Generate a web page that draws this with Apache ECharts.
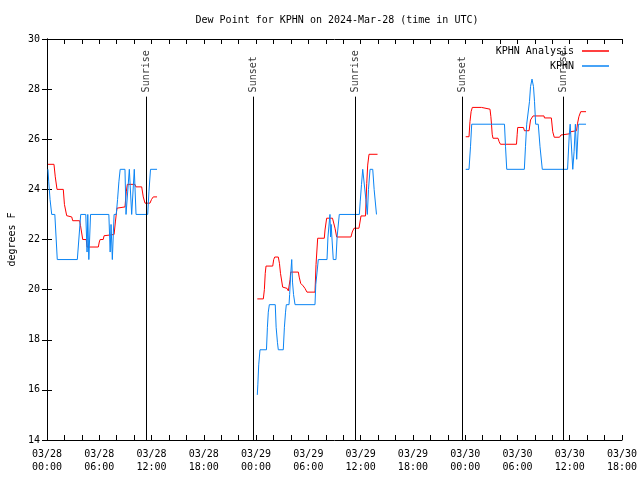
<!DOCTYPE html>
<html>
<head>
<meta charset="utf-8">
<script src="https://cdn.jsdelivr.net/npm/echarts@6/dist/echarts.min.js"></script>
<style>html,body{margin:0;padding:0;background:#fff}#c{width:640px;height:480px}</style>
</head>
<body>
<div id="c"></div>
<script>
// Hours since 2024-03-28 00:00 UTC, dew point in °F
const analysisDay1 = [[0.11,25.0],[0.80,25.0],[0.95,24.5],[1.15,24.0],[1.87,24.0],[2.0,23.4],[2.26,22.95],[2.84,22.9],[2.95,22.75],[3.75,22.75],[3.85,22.55],[4.10,22.0],[4.5,22.0],[4.6,21.7],[5.89,21.7],[6.0,21.9],[6.1,22.0],[6.45,22.0],[6.55,22.15],[6.69,22.2],[7.7,22.2],[7.85,22.7],[8.03,23.25],[8.95,23.3],[9.1,23.9],[9.22,24.2],[10.1,24.2],[10.2,24.1],[10.87,24.1],[11.05,23.7],[11.25,23.45],[11.82,23.45],[12.0,23.6],[12.2,23.7],[12.63,23.7]];
const analysisDay2 = [[24.14,19.63],[24.83,19.63],[24.95,20.0],[25.05,20.65],[25.14,20.94],[25.91,20.94],[26.02,21.2],[26.14,21.3],[26.55,21.3],[26.68,21.05],[26.8,20.65],[27.05,20.1],[27.55,20.05],[27.7,19.95],[27.78,19.9],[27.9,20.4],[27.97,20.7],[28.85,20.7],[28.95,20.5],[29.12,20.25],[29.4,20.15],[29.61,20.05],[29.84,19.9],[30.76,19.9],[30.88,21.0],[31.07,22.05],[31.83,22.05],[31.91,22.38],[32.10,22.85],[32.77,22.85],[33.06,22.45],[33.25,22.1],[34.89,22.1],[35.04,22.3],[35.24,22.45],[35.81,22.45],[36.04,22.94],[36.56,22.94],[36.70,24.24],[36.81,24.97],[36.96,25.4],[37.94,25.4]];
const analysisDay3 = [[48.06,26.1],[48.44,26.1],[48.55,26.7],[48.68,27.1],[48.82,27.27],[49.87,27.27],[49.95,27.2],[50.85,27.2],[50.95,26.9],[51.02,26.6],[51.1,26.2],[51.19,26.04],[51.77,26.04],[51.9,25.9],[52.05,25.8],[53.89,25.8],[53.97,26.2],[54.03,26.47],[54.69,26.47],[54.8,26.34],[55.33,26.34],[55.5,26.77],[55.79,26.93],[57.05,26.93],[57.1,26.85],[57.89,26.85],[58.05,26.3],[58.22,26.08],[58.83,26.08],[59.0,26.17],[59.17,26.22],[60.03,26.22],[60.1,26.3],[60.78,26.34],[60.9,26.64],[61.05,26.9],[61.26,27.1],[61.87,27.1]];

const obsDay1 = [[0.11,24.8],[0.2,24.3],[0.35,23.6],[0.54,23.0],[0.9,23.0],[1.18,21.2],[3.48,21.2],[3.87,23.0],[4.45,23.0],[4.60,21.5],[4.68,23.0],[4.80,21.2],[5.0,23.0],[7.1,23.0],[7.25,21.5],[7.35,22.6],[7.5,21.2],[7.7,23.0],[7.95,23.0],[8.1,23.6],[8.25,24.3],[8.4,24.8],[8.95,24.8],[9.07,23.0],[9.45,24.8],[9.72,23.0],[10.02,24.8],[10.22,23.0],[11.56,23.0],[11.7,23.9],[11.88,24.8],[12.63,24.8]];
const obsDay2 = [[24.14,15.8],[24.2,16.2],[24.3,17.0],[24.45,17.6],[25.19,17.6],[25.3,18.5],[25.4,19.1],[25.52,19.4],[26.2,19.4],[26.3,18.5],[26.45,17.9],[26.55,17.6],[27.12,17.6],[27.25,18.5],[27.38,19.1],[27.47,19.4],[27.78,19.4],[27.85,19.8],[27.97,20.6],[28.09,21.2],[28.18,20.3],[28.3,19.8],[28.47,19.4],[30.76,19.4],[30.85,20.2],[31.0,20.7],[31.14,21.2],[32.14,21.2],[32.25,22.1],[32.35,22.5],[32.48,23.0],[32.55,22.1],[32.62,22.6],[32.7,22.1],[32.86,21.2],[33.17,21.2],[33.3,22.1],[33.55,23.0],[35.85,23.0],[35.95,23.5],[36.1,24.2],[36.24,24.8],[36.42,24.8],[36.6,23.6],[36.77,23.0],[36.9,24.0],[37.08,24.8],[37.39,24.8],[37.55,24.0],[37.82,23.0]];
const obsDay3 = [[48.06,24.8],[48.44,24.8],[48.61,25.7],[48.75,26.6],[52.51,26.6],[52.63,25.7],[52.77,24.8],[54.79,24.8],[54.92,25.7],[55.06,26.6],[55.24,26.6],[55.38,27.5],[55.50,28.1],[55.67,28.4],[55.84,28.1],[55.96,27.5],[56.09,26.6],[56.39,26.6],[56.59,25.7],[56.85,24.8],[59.75,24.8],[59.95,26.2],[60.05,26.6],[60.2,26.6],[60.35,24.8],[60.5,25.5],[60.65,26.6],[60.8,25.2],[61.0,26.6],[61.87,26.6]];

const sunEvents = [[11.36,'Sunrise'],[23.65,'Sunset'],[35.35,'Sunrise'],[47.63,'Sunset'],[59.23,'Sunrise']];
const xMin = 0, xMax = 66, xStep = 6;
const yMin = 14, yMax = 30, yStep = 2;

const gap = (h) => [[h, '-']];
const analysisData = [].concat(analysisDay1, gap(18), analysisDay2, gap(43), analysisDay3);
const obsData = [].concat(obsDay1, gap(18), obsDay2, gap(43), obsDay3);

const FONT = 'DejaVu Sans Mono';
function fmtX(v) {
  const day = 28 + Math.floor(v / 24);
  const hr = Math.round(v % 24);
  return '03/' + String(day).padStart(2,'0') + '\n' + String(hr).padStart(2,'0') + ':00';
}
const tickCommon = { show: true, inside: true, length: 5, lineStyle: { color: '#000', width: 1 } };
const minorCommon = { show: true, splitNumber: 3, length: 5, lineStyle: { color: '#000', width: 1 } };

const chart = echarts.init(document.getElementById('c'), null, { renderer: 'canvas' });
chart.setOption({
  animation: false,
  backgroundColor: '#fff',
  title: {
    text: 'Dew Point for KPHN on 2024-Mar-28 (time in UTC)',
    left: 332, top: 10, textAlign: 'center',
    textStyle: { fontFamily: FONT, fontSize: 10, fontWeight: 'normal', color: '#000' }
  },
  legend: [
    { data: ['KPHN Analysis'], right: 26, top: 41, align: 'right', icon: 'rect', itemWidth: 27, itemHeight: 1.5, itemGap: 0,
      textStyle: { fontFamily: FONT, fontSize: 10, color: '#000', padding: [0, 3, 0, 0] }, selectedMode: false },
    { data: ['KPHN'], right: 26, top: 56, align: 'right', icon: 'rect', itemWidth: 27, itemHeight: 1.5, itemGap: 0,
      textStyle: { fontFamily: FONT, fontSize: 10, color: '#000', padding: [0, 3, 0, 0] }, selectedMode: false }
  ],
  grid: { left: 47, right: 18, top: 39, bottom: 40, show: false, containLabel: false, outerBoundsMode: 'none' },
  xAxis: [
    { type: 'value', min: xMin, max: xMax, interval: xStep, position: 'bottom',
      axisLine: { show: true, lineStyle: { color: '#000', width: 1 } },
      axisTick: tickCommon, minorTick: minorCommon, splitLine: { show: false },
      axisLabel: { formatter: fmtX, fontFamily: FONT, fontSize: 10, color: '#000', margin: 8, lineHeight: 13 } },
    { type: 'value', min: xMin, max: xMax, interval: xStep, position: 'top',
      axisLine: { show: true, lineStyle: { color: '#000', width: 1 } },
      axisTick: tickCommon, minorTick: minorCommon, splitLine: { show: false }, axisLabel: { show: false } }
  ],
  yAxis: [
    { type: 'value', min: yMin, max: yMax, interval: yStep, position: 'left',
      name: 'degrees F', nameLocation: 'middle', nameGap: 30, nameRotate: 90,
      nameTextStyle: { fontFamily: FONT, fontSize: 10, color: '#000' },
      axisLine: { show: true, lineStyle: { color: '#000', width: 1 } },
      axisTick: tickCommon, splitLine: { show: false },
      axisLabel: { fontFamily: FONT, fontSize: 10, color: '#000', margin: 7 } },
    { type: 'value', min: yMin, max: yMax, interval: yStep, position: 'right',
      axisLine: { show: true, lineStyle: { color: '#000', width: 1 } },
      axisTick: tickCommon, splitLine: { show: false }, axisLabel: { show: false } }
  ],
  series: [
    { name: 'KPHN Analysis', type: 'line', data: analysisData, symbol: 'none', connectNulls: false,
      lineStyle: { color: '#ff0000', width: 1 }, itemStyle: { color: '#ff0000' }, z: 3 },
    { name: 'KPHN', type: 'line', data: obsData, symbol: 'none', connectNulls: false,
      lineStyle: { color: '#0a84f4', width: 1 }, itemStyle: { color: '#0a84f4' }, z: 4 },
    { name: 'sun', type: 'scatter', symbolSize: 1, silent: true, z: 5,
      itemStyle: { color: 'rgba(0,0,0,0)' },
      data: sunEvents.map(e => [e[0], 27.87, e[1]]),
      label: { show: true, position: 'inside', formatter: p => p.data[2], rotate: 90, align: 'left', verticalAlign: 'middle',
        fontFamily: FONT, fontSize: 10, color: '#000' },
      markLine: { silent: true, symbol: 'none', animation: false, label: { show: false },
        lineStyle: { color: '#000', width: 1, type: 'solid' },
        data: sunEvents.map(e => [{ coord: [e[0], yMin] }, { coord: [e[0], 27.7] }]) } }
  ]
});
</script>
</body>
</html>
